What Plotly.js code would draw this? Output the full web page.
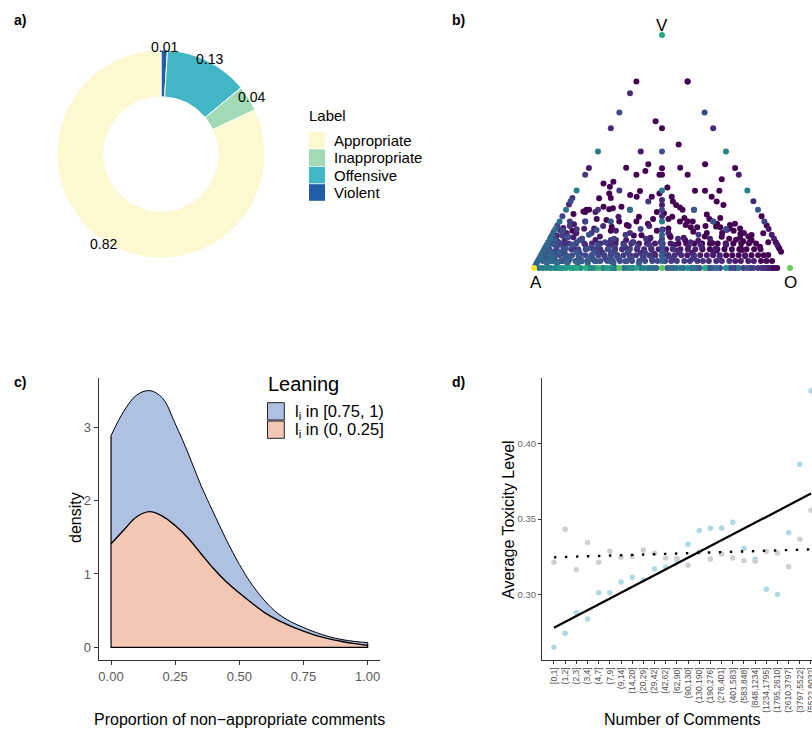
<!DOCTYPE html>
<html><head><meta charset="utf-8">
<script src="https://cdn.plot.ly/plotly-3.0.1.min.js"></script>
<style>html,body{margin:0;padding:0;background:#fff}#chart{width:812px;height:729px}</style>
</head><body><div id="chart"></div>
<script>
// ================= DATA =================
// a) share of comments per label
const labelNames  = ['Appropriate','Inappropriate','Offensive','Violent'];
const labelShares = [0.82, 0.04, 0.13, 0.01];
const labelColors = ['#fcf8d0','#a1dab4','#41b6c4','#225ea8'];

// b) users' composition (share Violent v, share Offensive o; share Appropriate = 1-v-o), number of users
const vertexA = {v:0, o:0, users:10000};
const vertexO = {v:0, o:1, users:1200};
const vertexV = {v:1, o:0, users:250};
// bottom edge: no violent comments
const bottomO = [0.02,0.035,0.05,0.065,0.08,0.09,0.1,0.111,0.125,0.143,0.154,0.167,0.182,0.2,0.214,0.222,0.235,0.25,0.267,0.273,0.286,0.3,0.308,0.318,0.333,0.35,0.364,0.375,0.385,0.4,0.417,0.429,0.444,0.455,0.467,0.478,0.5,0.52,0.533,0.545,0.556,0.571,0.583,0.6,0.615,0.625,0.636,0.647,0.667,0.68,0.692,0.7,0.714,0.727,0.75,0.765,0.778,0.786,0.8,0.818,0.833,0.846,0.857,0.875,0.889,0.9,0.909,0.917,0.929,0.938,0.95];
const bottomU = [40,45,60,50,70,60,120,90,150,180,60,250,70,350,60,80,50,400,50,60,150,80,40,35,900,30,40,90,30,200,30,60,35,30,25,20,1000,15,20,25,25,45,20,80,12,35,12,10,300,8,8,15,20,8,100,5,8,4,25,4,10,3,5,4,3,3,2,2,1,1,1];
// left edge: no offensive comments
const leftV = [0.01,0.02,0.03,0.04,0.05,0.06,0.07,0.08,0.09,0.1,0.111,0.125,0.133,0.143,0.154,0.167,0.182,0.2,0.222,0.25,0.273,0.286,0.3,0.333,0.4,0.429,0.5,0.6,0.667,0.75,0.8];
const leftU = [15,18,16,20,22,18,20,16,15,25,18,25,10,20,8,30,8,30,6,40,3,8,4,50,4,2,40,3,8,3,1];
// right edge: no appropriate comments
const rightV = [0.07,0.083,0.091,0.1,0.111,0.125,0.143,0.167,0.182,0.2,0.222,0.25,0.286,0.333,0.4,0.429,0.5,0.6,0.667,0.8];
const rightU = [1,1,1,2,1,2,2,2,1,5,1,12,3,50,2,1,60,3,8,1];
// middle column: as many offensive as appropriate comments
const colV = [0.03,0.05,0.07,0.09,0.107,0.125,0.142,0.163,0.2,0.222,0.249,0.27,0.292,0.333,0.4,0.428];
const colU = [20,15,10,8,10,6,15,8,40,3,6,2,3,40,1,1];
// dense low band, read row by row (share violent per row, shares offensive, users)
const rowV = [0.03,0.055,0.08,0.105];
const rowO = [
 [0.02,0.046,0.068,0.097,0.118,0.147,0.171,0.193,0.222,0.244,0.272,0.293,0.321,0.347,0.368,0.396,0.419,0.447,0.468,0.497,0.521,0.543,0.572,0.594,0.623,0.645,0.668,0.697,0.719,0.748,0.771,0.793,0.822,0.844,0.872,0.893,0.915],
 [0.02,0.047,0.072,0.098,0.121,0.149,0.173,0.197,0.224,0.248,0.273,0.299,0.322,0.348,0.371,0.399,0.423,0.447,0.474,0.498,0.522,0.548,0.571,0.597,0.622,0.648,0.672,0.698,0.723,0.747,0.772,0.797,0.822,0.848,0.87],
 [0.018,0.048,0.075,0.106,0.133,0.162,0.191,0.219,0.248,0.277,0.304,0.333,0.362,0.39,0.418,0.447,0.476,0.503,0.532,0.561,0.59,0.618,0.647,0.676,0.704,0.733,0.762,0.79,0.82,0.845],
 [0.02,0.051,0.083,0.112,0.144,0.174,0.206,0.236,0.266,0.297,0.328,0.358,0.389,0.42,0.45,0.481,0.512,0.542,0.573,0.604,0.635,0.665,0.696,0.726,0.757,0.787,0.815]
];
const rowU = [
 [14,13,12,12,11,11,10,10,9,9,9,8,8,8,7,7,7,6,6,6,5,5,5,4,4,4,3,3,3,3,2,2,2,2,1,1,1],
 [10,9,9,8,8,7,7,6,6,6,5,5,5,4,4,4,4,3,3,3,3,3,2,2,2,2,2,2,1,1,1,1,1,1,1],
 [7,6,6,5,5,5,4,4,4,4,3,3,3,3,3,2,2,2,2,2,2,1,1,1,1,1,1,1,1,1],
 [5,4,4,4,3,3,3,3,2,2,2,2,2,2,1,2,1,1,1,1,1,1,1,1,1,1,1]
];
// fan from A: share of violent among non-appropriate comments (ray), share of non-appropriate comments, users
const rayFv = [0.1,0.125,0.143,0.167,0.2,0.222,0.25,0.286,0.333,0.4,0.5,0.6,0.667,0.75,0.857];
const rayT = [
 [0.35,0.45,0.55,0.65,0.75,0.85],
 [0.3,0.4,0.5,0.6,0.7,0.8,0.9],
 [0.25,0.35,0.45,0.55,0.65,0.75,0.85],
 [0.2,0.3,0.4,0.5,0.6,0.7,0.8,0.88],
 [0.15,0.25,0.35,0.45,0.55,0.65,0.75,0.85],
 [0.2,0.3,0.4,0.5,0.6,0.7,0.8],
 [0.12,0.2,0.28,0.36,0.44,0.52,0.6,0.7,0.8],
 [0.14,0.21,0.28,0.35,0.42,0.49,0.56,0.7],
 [0.09,0.15,0.21,0.27,0.36,0.45,0.54,0.63,0.75],
 [0.1,0.15,0.2,0.25,0.3,0.4,0.5,0.6],
 [0.08,0.12,0.16,0.2,0.24,0.3,0.36,0.44,0.5],
 [0.07,0.12,0.17,0.22,0.28,0.35,0.42],
 [0.06,0.1,0.15,0.2,0.25,0.3,0.36,0.45],
 [0.05,0.1,0.15,0.2,0.25,0.32],
 [0.05,0.1,0.15,0.2,0.27]
];
const rayU = [
 [4,3,2,2,1,1],
 [5,4,3,2,2,1,1],
 [6,4,3,2,2,1,1],
 [8,6,4,3,2,2,1,1],
 [10,8,6,4,3,2,1,1],
 [5,4,3,2,1,1,1],
 [10,8,6,5,3,2,2,1,1],
 [6,5,4,3,2,1,1,1],
 [12,10,8,6,4,3,2,1,1],
 [6,5,4,3,2,2,1,1],
 [12,10,8,7,5,4,3,2,1],
 [5,4,3,2,2,1,1],
 [10,8,6,5,4,3,2,1],
 [8,6,4,3,2,1],
 [6,4,3,2,1]
];
// scattered single compositions [share violent, share offensive, users]
const scattered = [
 [0.8,0.2,1],[0.63,0.16,1],[0.6,0.2,1],[0.53,0.30,1],[0.5,0.167,2],[0.5,0.25,10],
 [0.43,0.145,1],[0.445,0.224,1],[0.416,0.227,1],[0.4,0.2,1],[0.4,0.29,1],[0.43,0.356,1],[0.4,0.4,1],[0.445,0.446,1],[0.381,0.543,1],
 [0.363,0.09,1],[0.37,0.125,1],[0.349,0.122,1],[0.299,0.105,1],[0.32,0.134,1],[0.333,0.167,4],[0.313,0.219,1],[0.33,0.249,1],[0.306,0.248,1],
 [0.285,0.304,4],[0.306,0.307,1],[0.32,0.33,1],[0.346,0.348,1],[0.332,0.463,1],[0.332,0.502,1],[0.332,0.558,1],[0.306,0.541,1],[0.285,0.571,1],
 [0.27,0.605,1],[0.306,0.385,1],[0.285,0.40,1],[0.27,0.42,1],[0.26,0.44,1],[0.25,0.455,1],
 [0.242,0.072,1],[0.25,0.08,1],[0.25,0.09,1],[0.263,0.14,1],[0.256,0.18,1],[0.263,0.21,1],[0.163,0.163,10],[0.206,0.18,1],[0.177,0.215,1],
 [0.2,0.233,1],[0.149,0.053,2],[0.16,0.07,1],[0.15,0.09,1],[0.163,0.02,3],
 [0.163,0.671,3],[0.185,0.673,1],[0.19,0.69,1],[0.17,0.72,1],[0.15,0.745,1],[0.135,0.77,1],[0.12,0.79,1],[0.149,0.821,1],[0.142,0.779,1],
 [0.077,0.773,1],[0.056,0.887,1],[0.091,0.837,1],[0.11,0.86,1],
 [0.25,0.25,25],[0.25,0.5,15],[0.2,0.6,10],[0.2,0.2,12],[0.167,0.667,8],[0.167,0.333,6],[0.143,0.143,8],[0.143,0.286,5],[0.143,0.571,4],
 [0.125,0.25,6],[0.125,0.125,8],[0.125,0.375,4],[0.125,0.5,3],[0.125,0.625,2],
 [0.1,0.1,10],[0.1,0.2,8],[0.1,0.3,6],[0.1,0.4,5],[0.1,0.6,3],[0.1,0.7,2],
 [0.111,0.111,8],[0.111,0.222,6],[0.111,0.333,5],[0.111,0.556,3],
 [0.083,0.083,12],[0.083,0.167,10],[0.083,0.25,8],[0.083,0.333,6],[0.083,0.5,4],[0.083,0.667,2],
 [0.067,0.067,14],[0.067,0.133,12],[0.067,0.2,10],[0.067,0.267,8],[0.067,0.333,7],[0.067,0.4,5],[0.067,0.533,3],[0.067,0.667,2],
 [0.05,0.05,16],[0.05,0.1,14],[0.05,0.15,12],[0.05,0.2,10],[0.05,0.3,8],[0.05,0.4,6],[0.05,0.5,5],[0.05,0.6,4],[0.05,0.7,3],[0.05,0.8,2],
 [0.04,0.04,18],[0.04,0.12,14],[0.04,0.2,12],[0.04,0.28,9],[0.04,0.36,8],[0.04,0.44,6],[0.04,0.52,5],[0.04,0.6,4],
 [0.029,0.057,22],[0.029,0.114,18],[0.029,0.171,15],[0.029,0.229,12],[0.029,0.286,12],[0.029,0.343,10],
 [0.02,0.04,25],[0.02,0.08,22],[0.02,0.12,20],[0.02,0.16,20],[0.02,0.2,18],[0.02,0.3,14],[0.02,0.4,12],
 [0.04,0.008,20],[0.08,0.016,15],[0.12,0.024,10],[0.16,0.032,8],[0.2,0.04,5],[0.06,0.02,15],[0.1,0.03,10],[0.14,0.04,6],[0.18,0.05,4],
 [0.067,0.033,15],[0.133,0.067,10],[0.2,0.1,6],[0.25,0.125,4],
 [0.22,0.3,1],[0.21,0.36,1],[0.235,0.39,1],[0.215,0.48,1],[0.2,0.52,1],[0.23,0.56,1],[0.215,0.62,1],[0.18,0.58,1],[0.17,0.44,1],[0.185,0.27,1],
 [0.14,0.02,3],[0.12,0.06,3],[0.15,0.09,2],[0.125,0.125,2],[0.17,0.15,2],[0.135,0.19,2],[0.16,0.22,1],[0.12,0.26,2],[0.18,0.28,1],[0.14,0.32,1],
 [0.19,0.35,1],[0.125,0.39,2],[0.165,0.42,1],[0.14,0.46,1],[0.2,0.47,1],[0.12,0.53,1],[0.175,0.55,1],[0.135,0.6,1],[0.19,0.62,1],[0.15,0.66,1],
 [0.125,0.7,1],[0.16,0.7,1],[0.13,0.74,1],[0.115,0.76,1],[0.175,0.64,1],[0.21,0.58,1],[0.22,0.43,1],[0.185,0.5,1]
];

// c) density of the proportion of non-appropriate comments
const densX    = [0,0.05,0.1,0.15,0.2,0.25,0.3,0.35,0.4,0.45,0.5,0.55,0.6,0.65,0.7,0.75,0.8,0.85,0.9,0.95,1];
const densLow  = [1.41,1.60,1.78,1.85,1.79,1.66,1.49,1.28,1.07,0.89,0.74,0.60,0.47,0.37,0.29,0.22,0.16,0.115,0.08,0.05,0.025];   // l_i in (0, 0.25]
const densHigh = [1.475,1.62,1.66,1.65,1.61,1.39,1.16,0.93,0.76,0.57,0.39,0.25,0.16,0.09,0.06,0.05,0.04,0.03,0.025,0.03,0.038]; // l_i in [0.75, 1)
const leaningNames  = ['l<sub>i</sub> in [0.75, 1)','l<sub>i</sub> in (0, 0.25]'];
const leaningColors = ['#afc1e3','#f3c7b4'];

// d) average toxicity by number of comments
const commentBins = ['[0,1]','(1,2]','(2,3]','(3,4]','(4,7]','(7,9]','(9,14]','(14,20]','(20,29]','(29,42]','(42,62]','(62,90]','(90,130]','(130,190]','(190,276]','(276,401]','(401,583]','(583,848]','(848,1234]','(1234,1795]','(1795,2610]','(2610,3797]','(3797,5522]','(5522,8032]'];
const toxBlue = [0.2647,0.2741,0.2878,0.2836,0.3011,0.3011,0.3082,0.3113,0.3095,0.3169,0.3180,0.3228,0.3333,0.3424,0.3439,0.3441,0.3479,0.3306,0.3235,0.3033,0.2998,0.3410,0.3865,0.4355];
const toxGrey = [0.3213,0.3432,0.3164,0.3344,0.3213,0.3286,0.3246,0.3253,0.3295,0.3273,0.3242,0.3239,0.3193,0.3279,0.3235,0.3268,0.3242,0.3224,0.3220,0.3284,0.3275,0.3184,0.3366,0.3559];
const fitBlue = [0.2778, 0.3670];
const fitGrey = [0.3246, 0.3299];

// ================= BUILD =================
const W = 812, H = 729;
const FONT = '"Liberation Sans", Arial, Helvetica, sans-serif';
const px = x => x / W, py = y => 1 - y / H;

const traces = [];
const annotations = [];
const shapes = [];
const note = (x, y, text, size, extra) => annotations.push(Object.assign({
  xref: 'paper', yref: 'paper', x: px(x), y: py(y), text: text, showarrow: false,
  xanchor: 'center', yanchor: 'middle', font: {family: FONT, size: size, color: '#000'}}, extra || {}));

// ---- a) donut ----
const pieOrder = labelNames.map((_, i) => i).reverse(); // clockwise from 12 o'clock: Violent first
traces.push({
  type: 'pie', sort: false, direction: 'clockwise', rotation: 0, hole: 0.55,
  labels: pieOrder.map(i => labelNames[i]), values: pieOrder.map(i => labelShares[i]),
  marker: {colors: pieOrder.map(i => labelColors[i]), line: {color: '#ffffff', width: 1}},
  textinfo: 'none', hoverinfo: 'label+value', showlegend: false,
  domain: {x: [px(57), px(265)], y: [py(258), py(50)]}
});
{
  const cx = 161, cy = 154, rLab = 107;
  const total = labelShares.reduce((a, b) => a + b, 0);
  let cum = 0;
  pieOrder.forEach(i => {
    const th = 2 * Math.PI * (cum + labelShares[i] / 2) / total;
    cum += labelShares[i];
    note(cx + rLab * Math.sin(th), cy - rLab * Math.cos(th), labelShares[i].toFixed(2), 14);
  });
}
note(307, 116, 'Label', 15, {xanchor: 'left'});
labelNames.forEach((n, i) => {
  const top = 132 + i * 17.4;
  shapes.push({type: 'rect', xref: 'paper', yref: 'paper', x0: px(309), x1: px(325), y0: py(top + 16.6), y1: py(top),
    fillcolor: labelColors[i], line: {width: 0}});
  note(332, top + 8.3, n, 15, {xanchor: 'left'});
});

// ---- b) ternary composition ----
const pts = [];
pts.push(vertexA, vertexO, vertexV);
bottomO.forEach((o, i) => pts.push({v: 0, o: o, users: bottomU[i]}));
leftV.forEach((v, i) => pts.push({v: v, o: 0, users: leftU[i]}));
rightV.forEach((v, i) => pts.push({v: v, o: 1 - v, users: rightU[i]}));
colV.forEach((v, i) => pts.push({v: v, o: (1 - v) / 2, users: colU[i]}));
rowV.forEach((v, r) => rowO[r].forEach((o, j) => pts.push({v: v, o: o, users: (rowU[r][j] || 1)})));
rayFv.forEach((fv, r) => rayT[r].forEach((t, j) => pts.push({v: t * fv, o: t * (1 - fv), users: (rayU[r][j] || 1)})));
scattered.forEach(s => pts.push({v: s[0], o: s[1], users: s[2]}));
pts.sort((a, b) => a.users - b.users);
traces.push({
  type: 'scatter', mode: 'markers', xaxis: 'x', yaxis: 'y', cliponaxis: false, showlegend: false,
  x: pts.map(p => p.o + p.v / 2), y: pts.map(p => p.v),
  text: pts.map(p => 'A ' + (1 - p.v - p.o).toFixed(2) + ', O ' + p.o.toFixed(2) + ', V ' + p.v.toFixed(2) + '<br>users: ' + p.users),
  hoverinfo: 'text',
  marker: {size: 6, color: pts.map(p => Math.log10(p.users)), colorscale: 'Viridis', cmin: 0, cmax: 4, line: {width: 0}}
});
annotations.push(
  {xref: 'x', yref: 'y', x: 0.5, y: 1, yshift: 10, text: 'V', showarrow: false, xanchor: 'center', yanchor: 'middle', font: {family: FONT, size: 17, color: '#000'}},
  {xref: 'x', yref: 'y', x: 0, y: 0, xshift: 2, yshift: -14, text: 'A', showarrow: false, xanchor: 'center', yanchor: 'middle', font: {family: FONT, size: 17, color: '#000'}},
  {xref: 'x', yref: 'y', x: 1, y: 0, yshift: -14, text: 'O', showarrow: false, xanchor: 'center', yanchor: 'middle', font: {family: FONT, size: 17, color: '#000'}}
);

// ---- c) stacked densities ----
const densTop = densX.map((_, i) => densLow[i] + densHigh[i]);
traces.push({
  type: 'scatter', mode: 'lines', xaxis: 'x2', yaxis: 'y2', x: densX, y: densTop, name: leaningNames[0],
  fill: 'tozeroy', fillcolor: leaningColors[0], line: {color: '#000', width: 1, shape: 'spline'}, showlegend: false
});
traces.push({
  type: 'scatter', mode: 'lines', xaxis: 'x2', yaxis: 'y2', x: densX, y: densLow, name: leaningNames[1],
  fill: 'tozeroy', fillcolor: leaningColors[1], line: {color: '#000', width: 1.4, shape: 'spline'}, showlegend: false
});
{
  const n = densX.length - 1;
  traces.push({
    type: 'scatter', mode: 'lines', xaxis: 'x2', yaxis: 'y2', showlegend: false, hoverinfo: 'skip',
    x: [densX[0], densX[0], densX[n], densX[n]], y: [densTop[0], 0, 0, densTop[n]],
    line: {color: '#000', width: 1.2}
  });
}
note(266, 384, 'Leaning', 20, {xanchor: 'left'});
leaningNames.forEach((n, i) => {
  const top = 402.7 + i * 18.3;
  shapes.push({type: 'rect', xref: 'paper', yref: 'paper', x0: px(267.5), x1: px(284.3), y0: py(top + 17.3), y1: py(top),
    fillcolor: leaningColors[i], line: {color: '#222', width: 1}});
  note(293, top + 8.8, n, 16.5, {xanchor: 'left'});
});

// ---- d) toxicity vs number of comments ----
traces.push({type: 'scatter', mode: 'markers', xaxis: 'x3', yaxis: 'y3', x: commentBins, y: toxBlue,
  marker: {size: 5.5, color: '#add8e6'}, cliponaxis: false, showlegend: false});
traces.push({type: 'scatter', mode: 'markers', xaxis: 'x3', yaxis: 'y3', x: commentBins, y: toxGrey,
  marker: {size: 5.5, color: '#cfcfcf'}, cliponaxis: false, showlegend: false});
const ends = [commentBins[0], commentBins[commentBins.length - 1]];
traces.push({type: 'scatter', mode: 'lines', xaxis: 'x3', yaxis: 'y3', x: ends, y: fitGrey,
  line: {color: '#000', width: 2.4, dash: '2.4px,8.6px'}, showlegend: false});
traces.push({type: 'scatter', mode: 'lines', xaxis: 'x3', yaxis: 'y3', x: ends, y: fitBlue,
  line: {color: '#000', width: 2.2}, showlegend: false});

// titles / panel letters
note(239, 719.5, 'Proportion of non\u2212appropriate comments', 16);
note(75, 518, 'density', 16, {textangle: -90});
note(682, 719.5, 'Number of Comments', 16);
note(508, 520, 'Average Toxicity Level', 16, {textangle: -90});
[['a)', 20, 20], ['b)', 459, 20], ['c)', 20, 382], ['d)', 459, 382]].forEach(l => note(l[1], l[2], '<b>' + l[0] + '</b>', 14));

const axBase = {showgrid: false, zeroline: false, showline: true, linecolor: '#333', linewidth: 1,
  ticks: 'outside', tickcolor: '#333', tickwidth: 1, fixedrange: true};
const layout = {
  width: W, height: H, autosize: false, margin: {l: 0, r: 0, t: 0, b: 0},
  paper_bgcolor: '#fff', plot_bgcolor: 'rgba(0,0,0,0)', showlegend: false,
  font: {family: FONT},
  xaxis: {domain: [px(534), px(790)], range: [0, 1], visible: false, anchor: 'y', fixedrange: true},
  yaxis: {domain: [py(268), py(35)], range: [0, 1], visible: false, anchor: 'x', fixedrange: true},
  xaxis2: Object.assign({}, axBase, {domain: [px(98.7), px(380)], range: [-0.048, 1.048], anchor: 'y2',
    tickvals: [0, 0.25, 0.5, 0.75, 1], ticktext: ['0.00', '0.25', '0.50', '0.75', '1.00'], ticklen: 4,
    tickfont: {family: FONT, size: 13, color: '#595959'}}),
  yaxis2: Object.assign({}, axBase, {domain: [py(660), py(378)], range: [-0.173, 3.672], anchor: 'x2',
    tickvals: [0, 1, 2, 3], ticktext: ['0', '1', '2', '3'], ticklen: 4,
    tickfont: {family: FONT, size: 13, color: '#595959'}}),
  xaxis3: Object.assign({}, axBase, {domain: [px(542), 1], type: 'category', categoryorder: 'array', categoryarray: commentBins,
    range: [-1.07, 23.09], anchor: 'y3', tickangle: -90, ticklen: 3,
    tickfont: {family: FONT, size: 8.5, color: '#4d4d4d'}}),
  yaxis3: Object.assign({}, axBase, {domain: [py(660), py(378)], range: [0.2563, 0.4439], anchor: 'x3',
    tickvals: [0.30, 0.35, 0.40], ticktext: ['0.30', '0.35', '0.40'], ticklen: 3,
    tickfont: {family: FONT, size: 9.5, color: '#666'}}),
  annotations: annotations, shapes: shapes
};
Plotly.newPlot('chart', traces, layout, {displayModeBar: false, staticPlot: true});
</script></body></html>
